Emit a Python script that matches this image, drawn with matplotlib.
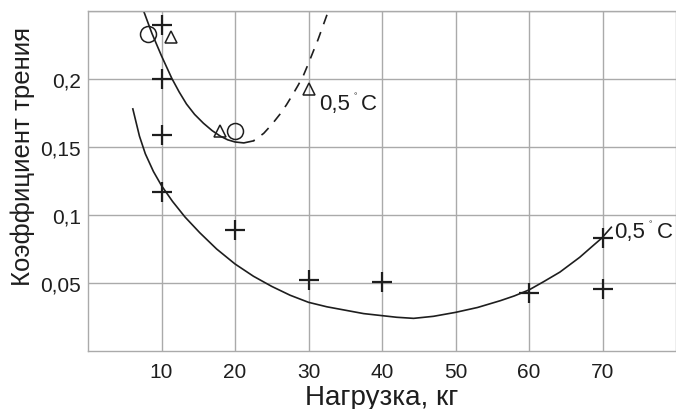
import matplotlib
matplotlib.use('Agg')
import matplotlib.pyplot as plt

plt.rcParams['font.family'] = ['Liberation Sans', 'DejaVu Sans']

# experimental points (+)
plus_x = [10, 10, 10, 10, 20, 30, 40, 60, 70, 70]
plus_y = [0.240, 0.200, 0.159, 0.117, 0.089, 0.052, 0.0505, 0.043, 0.083, 0.0455]

# circles and triangles
circle_x = [8.1, 20.0]
circle_y = [0.233, 0.162]
tri_x = [11.3, 17.9, 30.0]
tri_y = [0.231, 0.162, 0.193]

# upper curve (solid part, then dashed part)
upper_x = [7.5, 8.7, 10.0, 11.4, 12.4, 13.4, 14.5, 15.7, 16.9, 18.0, 19.0, 20.0, 21.2, 22.5]
upper_y = [0.251, 0.2335, 0.217, 0.2005, 0.1905, 0.1816, 0.174, 0.1675, 0.162, 0.158,
           0.1553, 0.1537, 0.153, 0.1545]
dash_x = [22.5, 23.9, 25.0, 26.1, 27.0, 27.9, 28.6, 29.3, 30.0, 30.7, 31.3, 31.8, 32.4, 33.0]
dash_y = [0.1545, 0.160, 0.1665, 0.174, 0.181, 0.189, 0.1955, 0.2025, 0.2115, 0.221,
          0.229, 0.2365, 0.2455, 0.2545]

# lower curve
lower_x = [6.1, 7.0, 7.8, 8.9, 10.0, 11.5, 13.2, 15.2, 17.5, 20.0, 22.5, 25.0, 27.5,
           30.0, 32.5, 35.0, 37.5, 40.0, 42.0, 44.3, 47.0, 50.0, 53.0, 56.1, 58.0,
           60.0, 62.0, 64.2, 66.9, 68.7, 69.9, 71.2]
lower_y = [0.178, 0.158, 0.145, 0.132, 0.1216, 0.110, 0.0985, 0.087, 0.075, 0.064,
           0.055, 0.0475, 0.041, 0.0358, 0.0325, 0.030, 0.0275, 0.026, 0.0248, 0.024,
           0.0255, 0.0284, 0.032, 0.037, 0.0405, 0.0449, 0.051, 0.058, 0.0689, 0.0774,
           0.083, 0.091]

x_ticks = [10, 20, 30, 40, 50, 60, 70]
x_ticklabels = ['10', '20', '30', '40', '50', '60', '70']
y_ticks = [0.05, 0.1, 0.15, 0.2]
y_ticklabels = ['0,05', '0,1', '0,15', '0,2']

ink = '#1e1e1e'
grid_col = '#aaaaaa'

fig = plt.figure(figsize=(6.76, 4.10), dpi=100)
ax = fig.add_axes([88 / 676, 58 / 410, 588 / 676, 340 / 410])

ax.set_xlim(0, 80)
ax.set_ylim(0, 0.25)

ax.plot(upper_x, upper_y, color=ink, lw=1.2)
ax.plot(dash_x, dash_y, color=ink, lw=1.2, linestyle=(5, (6, 5)))
ax.plot(lower_x, lower_y, color=ink, lw=1.2)

ax.plot(plus_x, plus_y, linestyle='none', marker='+', ms=14, mew=1.6, color=ink)
ax.plot(circle_x, circle_y, linestyle='none', marker='o', ms=11.5, mew=1.1,
        mfc='none', mec=ink)
ax.plot(tri_x, tri_y, linestyle='none', marker='^', ms=8.5, mew=1.1,
        mfc='none', mec=ink)

# temperature labels
for lx, ly in [(31.4, 0.178), (71.6, 0.0838)]:
    ax.text(lx, ly, '0,5', fontsize=16, color=ink, va='baseline', ha='left')
    ax.annotate('\u00b0', (lx, ly), xytext=(25, 8.5), textcoords='offset points',
                fontsize=6, color=ink, va='baseline', ha='left')
    ax.annotate('C', (lx, ly), xytext=(30.5, 0), textcoords='offset points',
                fontsize=16, color=ink, va='baseline', ha='left')

ax.set_xticks(x_ticks)
ax.set_xticklabels(x_ticklabels)
ax.set_yticks(y_ticks)
ax.set_yticklabels(y_ticklabels)
ax.set_xticks([80], minor=True)
ax.set_yticks([0.25], minor=True)
ax.tick_params(axis='both', which='both', length=0, labelsize=15, colors=ink)
ax.tick_params(axis='x', pad=8)
ax.tick_params(axis='y', pad=5)

ax.grid(True, which='both', color=grid_col, lw=1.0)
for side in ['left', 'bottom', 'top']:
    ax.spines[side].set_color(grid_col)
    ax.spines[side].set_linewidth(1.0)
ax.spines['right'].set_visible(False)

ax.set_xlabel('Нагрузка, кг', fontsize=20, color=ink)
ax.set_ylabel('Коэффициент трения', fontsize=18.5, color=ink)
ax.xaxis.set_label_coords(0.5, -0.098)
ax.yaxis.set_label_coords(-0.09, 0.575)

fig.savefig('out.png', dpi=100)
